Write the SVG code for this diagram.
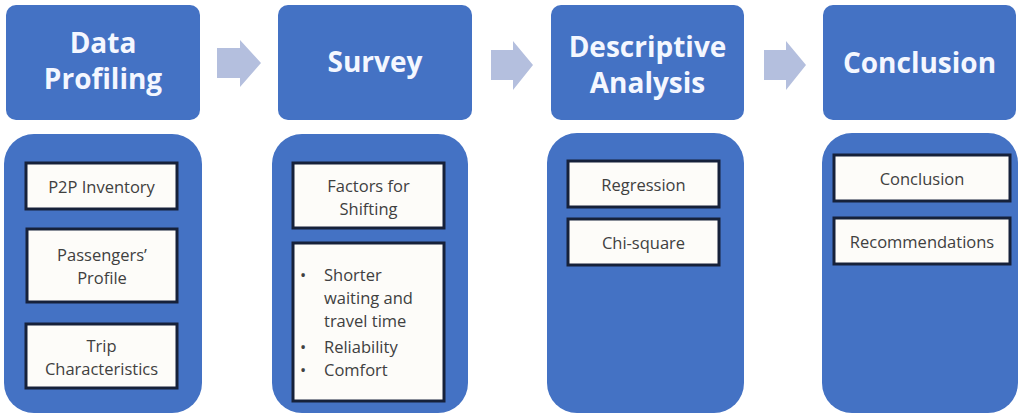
<svg xmlns="http://www.w3.org/2000/svg" width="1019" height="415" viewBox="0 0 1019 415">
<style>
.hdr{fill:#4472c4;}
.panel{fill:#4472c4;}
.item{fill:#fdfcf9;stroke:#16213a;stroke-width:3;}
.ht{font-family:"Open Sans","Liberation Sans",sans-serif;font-weight:bold;font-size:28px;fill:#f4f7ff;text-anchor:middle;}
.it{font-family:"Open Sans","Liberation Sans",sans-serif;font-size:16.5px;fill:#404040;text-anchor:middle;}
.bt{font-family:"Open Sans","Liberation Sans",sans-serif;font-size:16.5px;fill:#404040;}
.arr{fill:#b4bfde;}
</style>
<rect width="1019" height="415" fill="#ffffff"/>
<g id="connectors">
<polygon class="arr" points="217,48 240,48 240,40 261,63 240,87 240,78 217,78"/>
<polygon class="arr" points="491,50 513,50 513,41 533,65 513,90 513,80 491,80"/>
<polygon class="arr" points="764,50 786,50 786,41 806,65 786,90 786,80 764,80"/>
</g>
<g id="data-profiling">
<rect class="hdr" x="6" y="5" width="194" height="115" rx="10"/>
<text class="ht" x="103" y="53">Data</text>
<text class="ht" x="103" y="89">Profiling</text>
<rect class="panel" x="4" y="134" width="198" height="279" rx="30"/>
<rect class="item" x="26" y="163" width="151" height="46"/>
<text class="it" x="101.5" y="193">P2P Inventory</text>
<rect class="item" x="27" y="229" width="150" height="73"/>
<text class="it" x="102" y="261">Passengers’</text>
<text class="it" x="102" y="284">Profile</text>
<rect class="item" x="26" y="324" width="151" height="64"/>
<text class="it" x="101.5" y="352">Trip</text>
<text class="it" x="101.5" y="375">Characteristics</text>
</g>
<g id="survey">
<rect class="hdr" x="278" y="5" width="194" height="115" rx="10"/>
<text class="ht" x="375" y="72">Survey</text>
<rect class="panel" x="272" y="134" width="196" height="279" rx="30"/>
<rect class="item" x="293" y="163" width="151" height="65"/>
<text class="it" x="368.5" y="192">Factors for</text>
<text class="it" x="368.5" y="215">Shifting</text>
<rect class="item" x="293" y="243" width="151" height="158"/>
<text class="bt" x="300" y="281">•</text>
<text class="bt" x="324" y="281">Shorter</text>
<text class="bt" x="324" y="304">waiting and</text>
<text class="bt" x="324" y="327">travel time</text>
<text class="bt" x="300" y="353">•</text>
<text class="bt" x="324" y="353">Reliability</text>
<text class="bt" x="300" y="376">•</text>
<text class="bt" x="324" y="376">Comfort</text>
</g>
<g id="descriptive-analysis">
<rect class="hdr" x="551" y="5" width="193" height="115" rx="10"/>
<text class="ht" x="647.5" y="57">Descriptive</text>
<text class="ht" x="647.5" y="93">Analysis</text>
<rect class="panel" x="547" y="133" width="197" height="280" rx="30"/>
<rect class="item" x="568" y="161" width="151" height="46"/>
<text class="it" x="643.5" y="191">Regression</text>
<rect class="item" x="568" y="219" width="151" height="46"/>
<text class="it" x="643.5" y="249">Chi-square</text>
</g>
<g id="conclusion">
<rect class="hdr" x="823" y="5" width="193" height="115" rx="10"/>
<text class="ht" x="919.5" y="73">Conclusion</text>
<rect class="panel" x="822" y="133" width="196" height="280" rx="30"/>
<rect class="item" x="834" y="155" width="176" height="46"/>
<text class="it" x="922" y="185">Conclusion</text>
<rect class="item" x="834" y="218" width="176" height="46"/>
<text class="it" x="922" y="248">Recommendations</text>
</g>
</svg>
